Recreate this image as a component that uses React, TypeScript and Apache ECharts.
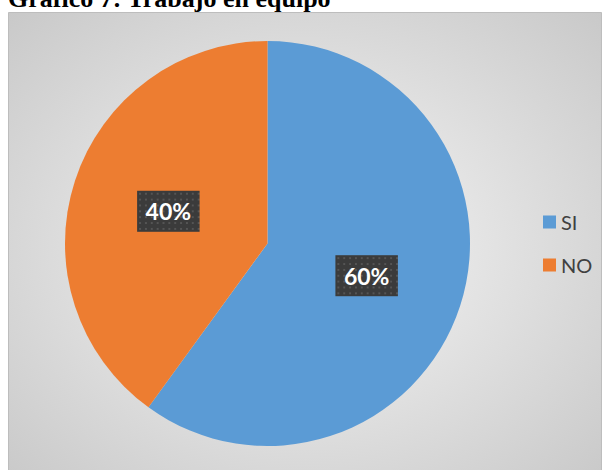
import React, { useEffect, useRef } from "react";
import * as echarts from "echarts";

const categories = ["SI", "NO"];
const values = [60, 40];
const colors = ["#5B9BD5", "#ED7D31"];
const title = "Gráfico 7: Trabajo en equipo";

function makePattern(): string | undefined {
  try {
    const c = document.createElement("canvas");
    c.width = 64;
    c.height = 42;
    const ctx = c.getContext("2d");
    if (!ctx) return undefined;
    ctx.fillStyle = "#3b3b3b";
    ctx.fillRect(0, 0, 64, 42);
    ctx.fillStyle = "#555555";
    for (let y = 2; y < 42; y += 6) {
      for (let x = 2; x < 64; x += 6) {
        ctx.fillRect(x, y, 2, 2);
      }
    }
    return c.toDataURL();
  } catch (e) {
    return undefined;
  }
}

export default function App() {
  const ref = useRef<HTMLDivElement>(null);
  useEffect(() => {
    if (!ref.current) return;
    const chart = echarts.init(ref.current, undefined, { renderer: "svg" });
    const pat = makePattern();
    chart.setOption({
      animation: false,
      graphic: [
        {
          type: "rect",
          z: -10,
          shape: { x: 8.5, y: 12.5, width: 593, height: 470 },
          style: {
            fill: {
              type: "radial",
              x: 0.5,
              y: 0.5,
              r: 0.75,
              colorStops: [
                { offset: 0, color: "#f7f7f7" },
                { offset: 1, color: "#c6c6c6" },
              ],
            },
            stroke: "#bdbdbd",
            lineWidth: 1,
          },
        },
        {
          type: "text",
          z: -5,
          x: 8,
          y: -2,
          style: {
            text: title,
            font: "bold 26px 'Liberation Serif', 'Times New Roman', serif",
            fill: "#000000",
            verticalAlign: "middle",
            align: "left",
          },
        },
      ],
      legend: {
        orient: "vertical",
        left: 538,
        top: 207,
        itemWidth: 13,
        itemHeight: 13,
        itemGap: 23,
        icon: "rect",
        textStyle: {
          fontFamily: "Lato",
          fontSize: 20,
          color: "#404040",
        },
        data: categories,
      },
      series: [
        {
          type: "pie",
          center: [267.5, 243.5],
          radius: 202.5,
          startAngle: 90,
          clockwise: true,
          silent: true,
          data: categories.map((n, i) => ({
            name: n,
            value: values[i],
            itemStyle: { color: colors[i] },
          })),
          label: {
            show: true,
            position: "inside",
            formatter: "{d}%",
            fontFamily: "Lato",
            fontWeight: "bold",
            fontSize: 23,
            color: "#ffffff",
            lineHeight: 25,
            padding: [8, 10, 8, 10],
            backgroundColor: pat ? { image: pat } : "#3b3b3b",
            shadowColor: "rgba(0,0,0,0.45)",
            shadowBlur: 6,
            shadowOffsetX: 3,
            shadowOffsetY: 3,
          },
          labelLine: { show: false },
        },
      ],
    });
    return () => chart.dispose();
  }, []);
  return (
    <div
      ref={ref}
      style={{ position: "absolute", left: 0, top: 0, width: 606, height: 470 }}
    />
  );
}
